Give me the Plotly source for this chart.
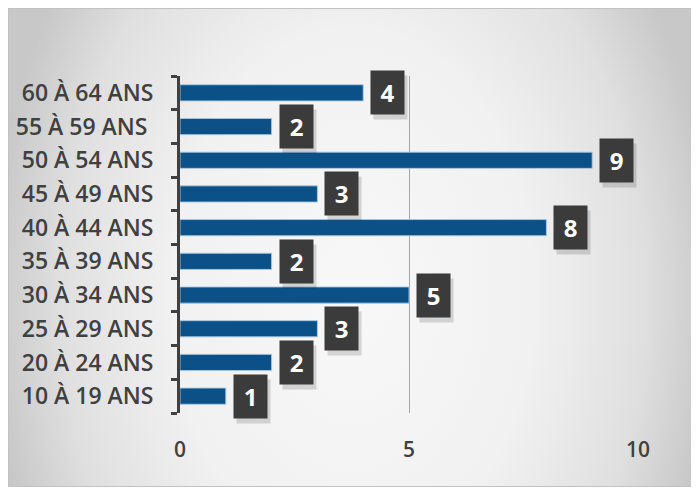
import base64
import plotly.graph_objects as go

categories = ["10 À 19 ANS", "20 À 24 ANS", "25 À 29 ANS", "30 À 34 ANS", "35 À 39 ANS",
              "40 À 44 ANS", "45 À 49 ANS", "50 À 54 ANS", "55 À 59 ANS ", "60 À 64 ANS"]
values = [1, 2, 3, 5, 2, 8, 3, 9, 2, 4]
x_ticks = [0, 5, 10]

# the page body adds an 8px offset, so the figure is sized for the rest of the window
W, H = 691, 481
L, R, T, B = 172, 630, 68, 405

bg_svg = '''<svg xmlns="http://www.w3.org/2000/svg" width="689" height="479" viewBox="0 0 689 479">
<defs><radialGradient id="g" cx="0.5" cy="0.6" r="0.5" gradientUnits="objectBoundingBox"
 gradientTransform="translate(0.5,0.6) scale(1.05,2.2) translate(-0.5,-0.6)">
<stop offset="0" stop-color="#f8f8f8"/><stop offset="0.5" stop-color="#f1f1f1"/>
<stop offset="0.8" stop-color="#e0e0e0"/><stop offset="1" stop-color="#c8c8c8"/>
</radialGradient></defs>
<rect x="0" y="0" width="689" height="479" fill="url(#g)"/>
<rect x="0.5" y="0.5" width="688" height="478" fill="none" stroke="#c2c2c2" stroke-width="1"/>
</svg>'''
bg_src = "data:image/svg+xml;base64," + base64.b64encode(bg_svg.encode()).decode()


def px2x(px):
    return (px - L) / (R - L)


def py2y(py):
    return (B - py) / (B - T)


fig = go.Figure()
fig.add_trace(go.Bar(
    x=values, y=categories, orientation="h",
    marker=dict(color="#0b5187", line=dict(color="rgba(170,200,225,0.9)", width=1)),
    width=0.48, hoverinfo="skip",
))

annotations = []
for c, v in zip(categories, values):
    annotations.append(dict(x=v, y=c, xref="x", yref="y", text=" ", showarrow=False,
                            xanchor="left", yanchor="middle", xshift=10, yshift=-5,
                            width=29, height=39, borderpad=2,
                            bgcolor="rgba(0,0,0,0.14)"))
    annotations.append(dict(x=v, y=c, xref="x", yref="y", text=f"<b>{v}</b>", showarrow=False,
                            xanchor="left", yanchor="middle", xshift=7, yshift=0,
                            width=29, height=39, borderpad=2,
                            bgcolor="#3b3b3b",
                            font=dict(family="Open Sans", size=24, color="white")))

fig.update_layout(
    width=W, height=H,
    margin=dict(l=L, r=W - R, t=T, b=H - B, pad=0, autoexpand=False),
    paper_bgcolor="white",
    plot_bgcolor="rgba(255,255,255,0.25)",
    showlegend=False,
    annotations=annotations,
    images=[dict(source=bg_src, xref="paper", yref="paper",
                 x=px2x(0), y=py2y(0), sizex=px2x(689) - px2x(0), sizey=py2y(0) - py2y(479),
                 xanchor="left", yanchor="top", sizing="stretch", layer="below")],
    xaxis=dict(range=[0, 10], tickvals=x_ticks, ticktext=[str(t) for t in x_ticks],
               showgrid=True, gridcolor="#a6a6a6", gridwidth=1, zeroline=False,
               showline=False, ticks="", ticklabelstandoff=22, automargin=False,
               tickfont=dict(family="Open Sans", size=21, color="#404040", weight=600),
               fixedrange=True),
    yaxis=dict(type="category", categoryorder="array", categoryarray=categories,
               range=[-0.5, len(categories) - 0.5], autorange=False,
               showgrid=False, zeroline=False, showline=True, linecolor="#404040", linewidth=3,
               ticks="outside", tickson="boundaries", ticklen=6, tickwidth=3, tickcolor="#404040",
               ticklabelstandoff=19, automargin=False,
               tickfont=dict(family="Open Sans", size=23, color="#404040", weight=600),
               fixedrange=True),
)

fig.write_html("out.html")
